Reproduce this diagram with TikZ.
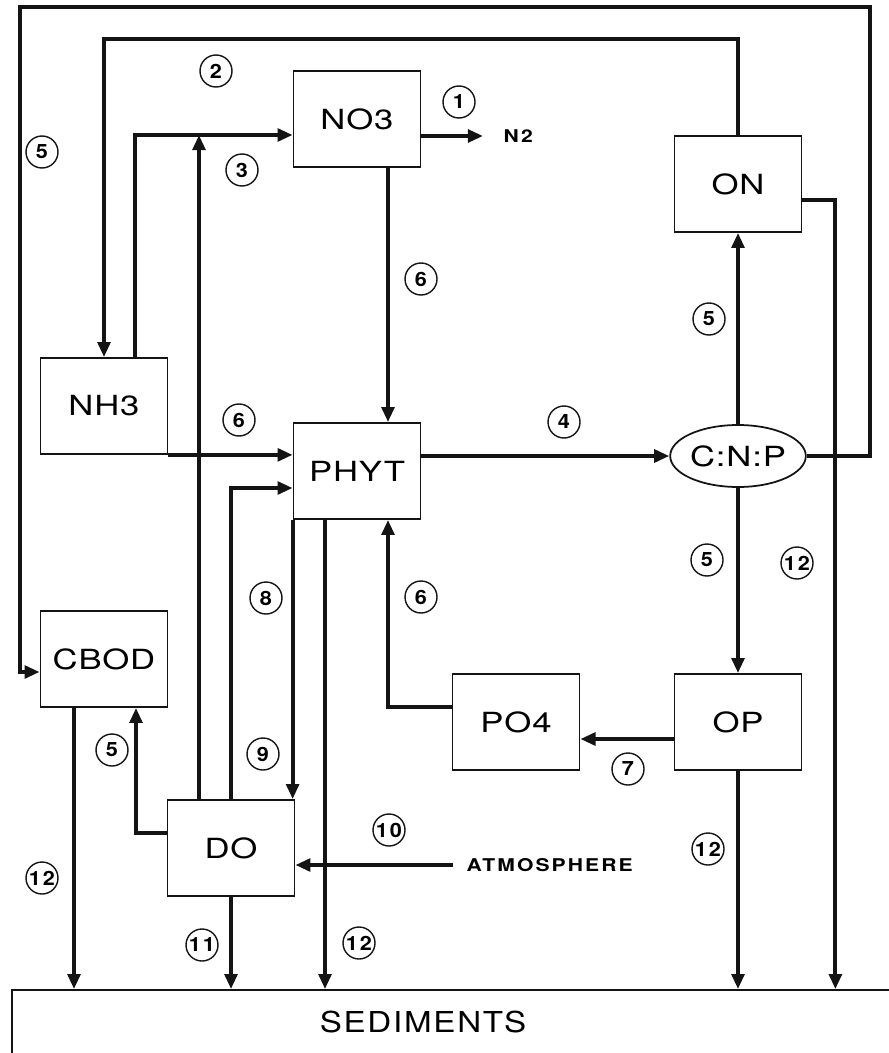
\documentclass[tikz,border=0pt]{standalone}
\usepackage{fontspec}
\setmainfont{TeX Gyre Heros}
\newfontfamily\boxfont[FakeStretch=1.25,LetterSpace=3]{TeX Gyre Heros}
\newfontfamily\numfont[FakeStretch=1.1,LetterSpace=10]{TeX Gyre Heros}
\newfontfamily\tagfont[FakeStretch=1.2,LetterSpace=12]{TeX Gyre Heros}
\newfontfamily\sedfont[FakeStretch=1.15,LetterSpace=6]{TeX Gyre Heros}
\usetikzlibrary{arrows.meta,shapes.geometric}
\definecolor{Ink}{HTML}{141414}
\tikzset{>={Triangle[length=4.3pt,width=3.6pt]},
 pool/.style={draw=Ink,line width=0.5pt,minimum width=12.7mm,minimum height=9.6mm,inner sep=0pt,
 font=\boxfont\fontsize{7.9pt}{9pt}\selectfont},
 ratiobox/.style={ellipse,draw=Ink,line width=0.5pt,minimum width=12.7mm,minimum height=6.2mm,inner sep=0pt,
 font=\boxfont\fontsize{7.9pt}{9pt}\selectfont},
 sedbox/.style={draw=Ink,line width=0.5pt,minimum width=88.8mm,minimum height=8mm,inner sep=0pt},
 flow/.style={draw=Ink,line width=1.15pt,->},
 num/.style={circle,draw=Ink,line width=0.4pt,minimum size=3.2mm,inner sep=0pt,
 font=\numfont\bfseries\fontsize{5.6pt}{6pt}\selectfont},
 outtag/.style={inner sep=0pt,anchor=west,font=\tagfont\bfseries\fontsize{5pt}{6pt}\selectfont}}

\begin{document}
\begin{tikzpicture}[x=0.1mm,y=-0.1mm]
\useasboundingbox (0,0) rectangle (888,1053);
\node[pool] (no3) at (357,119) {NO3};
\node[pool] (on) at (738,184) {ON};
\node[pool] (nh3) at (104,406) {NH3};
\node[pool] (phyt) at (357,471) {PHYT};
\node[ratiobox] (cnp) at (738,456) {C:N:P};
\node[pool] (cbod) at (104,659) {CBOD};
\node[pool] (po4) at (516,722) {PO4};
\node[pool] (op) at (738,722) {OP};
\node[pool] (do) at (231,848) {DO};
\node[sedbox] (sed) at (456,1030) {};
\node[font=\sedfont\fontsize{8.2pt}{10pt}\selectfont] (sedtxt) at (423,1022) {SEDIMENTS};
\node[outtag] (n2) at (503,136) {N2};
\node[outtag] (atm) at (466,865) {ATMOSPHERE};
\coordinate (no3in) at ([yshift=-1.6mm]no3.west);
\coordinate (cbodin) at ([yshift=-1.3mm]cbod.west);
\coordinate (cbodout) at ([xshift=-3mm]cbod.south);
\coordinate (phytout) at ([xshift=-3.2mm]phyt.south);
\coordinate (doup) at ([xshift=-3.2mm]do.north);
\draw[flow] (no3.east |- n2.west) -- ([xshift=-2mm]n2.west);
\draw[flow] (on.north) -- ++(0,-96) -| (nh3.north);
\draw[flow] ([xshift=3.1mm]nh3.north) |- (no3in);
\draw[flow] (doup) -- (doup |- no3in);
\draw[flow] (do.north) |- ([yshift=-1.7mm]phyt.west);
\draw[flow] (nh3.south east) -- (nh3.south east -| phyt.west);
\draw[flow] ([xshift=3.1mm]no3.south) -- ([xshift=3.1mm]phyt.north);
\draw[flow] (phyt.east |- cnp.west) -- (cnp.west);
\draw[flow] (cnp.north) -- (on.south);
\draw[flow] (cnp.south) -- (op.north);
\draw[flow] ([yshift=-1.7mm]op.west) -- ([yshift=-1.7mm]po4.east);
\draw[flow] ([yshift=1.5mm]po4.west) -| ([xshift=3.1mm]phyt.south);
\draw[flow] (cnp.east) -- ++(63,0) -- ++(0,-449) -- ++(-850,0) |- (cbodin);
\draw[flow] (phyt.south west) -- (phyt.south west |- do.north);
\draw[flow] ([yshift=1.5mm]do.west) -| ([xshift=3.2mm]cbod.south);
\draw[flow] ([xshift=-1.3mm]atm.west) -- (atm.west -| do.east);
\draw[flow] ([yshift=-1.6mm]on.east) -- ++(33,0) coordinate (onr) -- (onr |- sed.north);
\draw[flow] (cbodout) -- (cbodout |- sed.north);
\draw[flow] (do.south) -- (do.south |- sed.north);
\draw[flow] (phytout) -- (phytout |- sed.north);
\draw[flow] (op.south) -- (op.south |- sed.north);
\foreach \x/\y/\t [count=\i] in {459/102/1,216/71/2,242/170/3,42/152/5,421/279/6,709/319/5,239/420/6,
 266/598/8,421/597/6,564/422/4,707/560/5,797/563/12,112/750/5,263/754/9,389/830/10,42/878/12,
 202/945/11,359/943/12,628/769/7,708/849/12}
 {\node[num] (n\i) at (\x,\y) {\t};}
\end{tikzpicture}
\end{document}
